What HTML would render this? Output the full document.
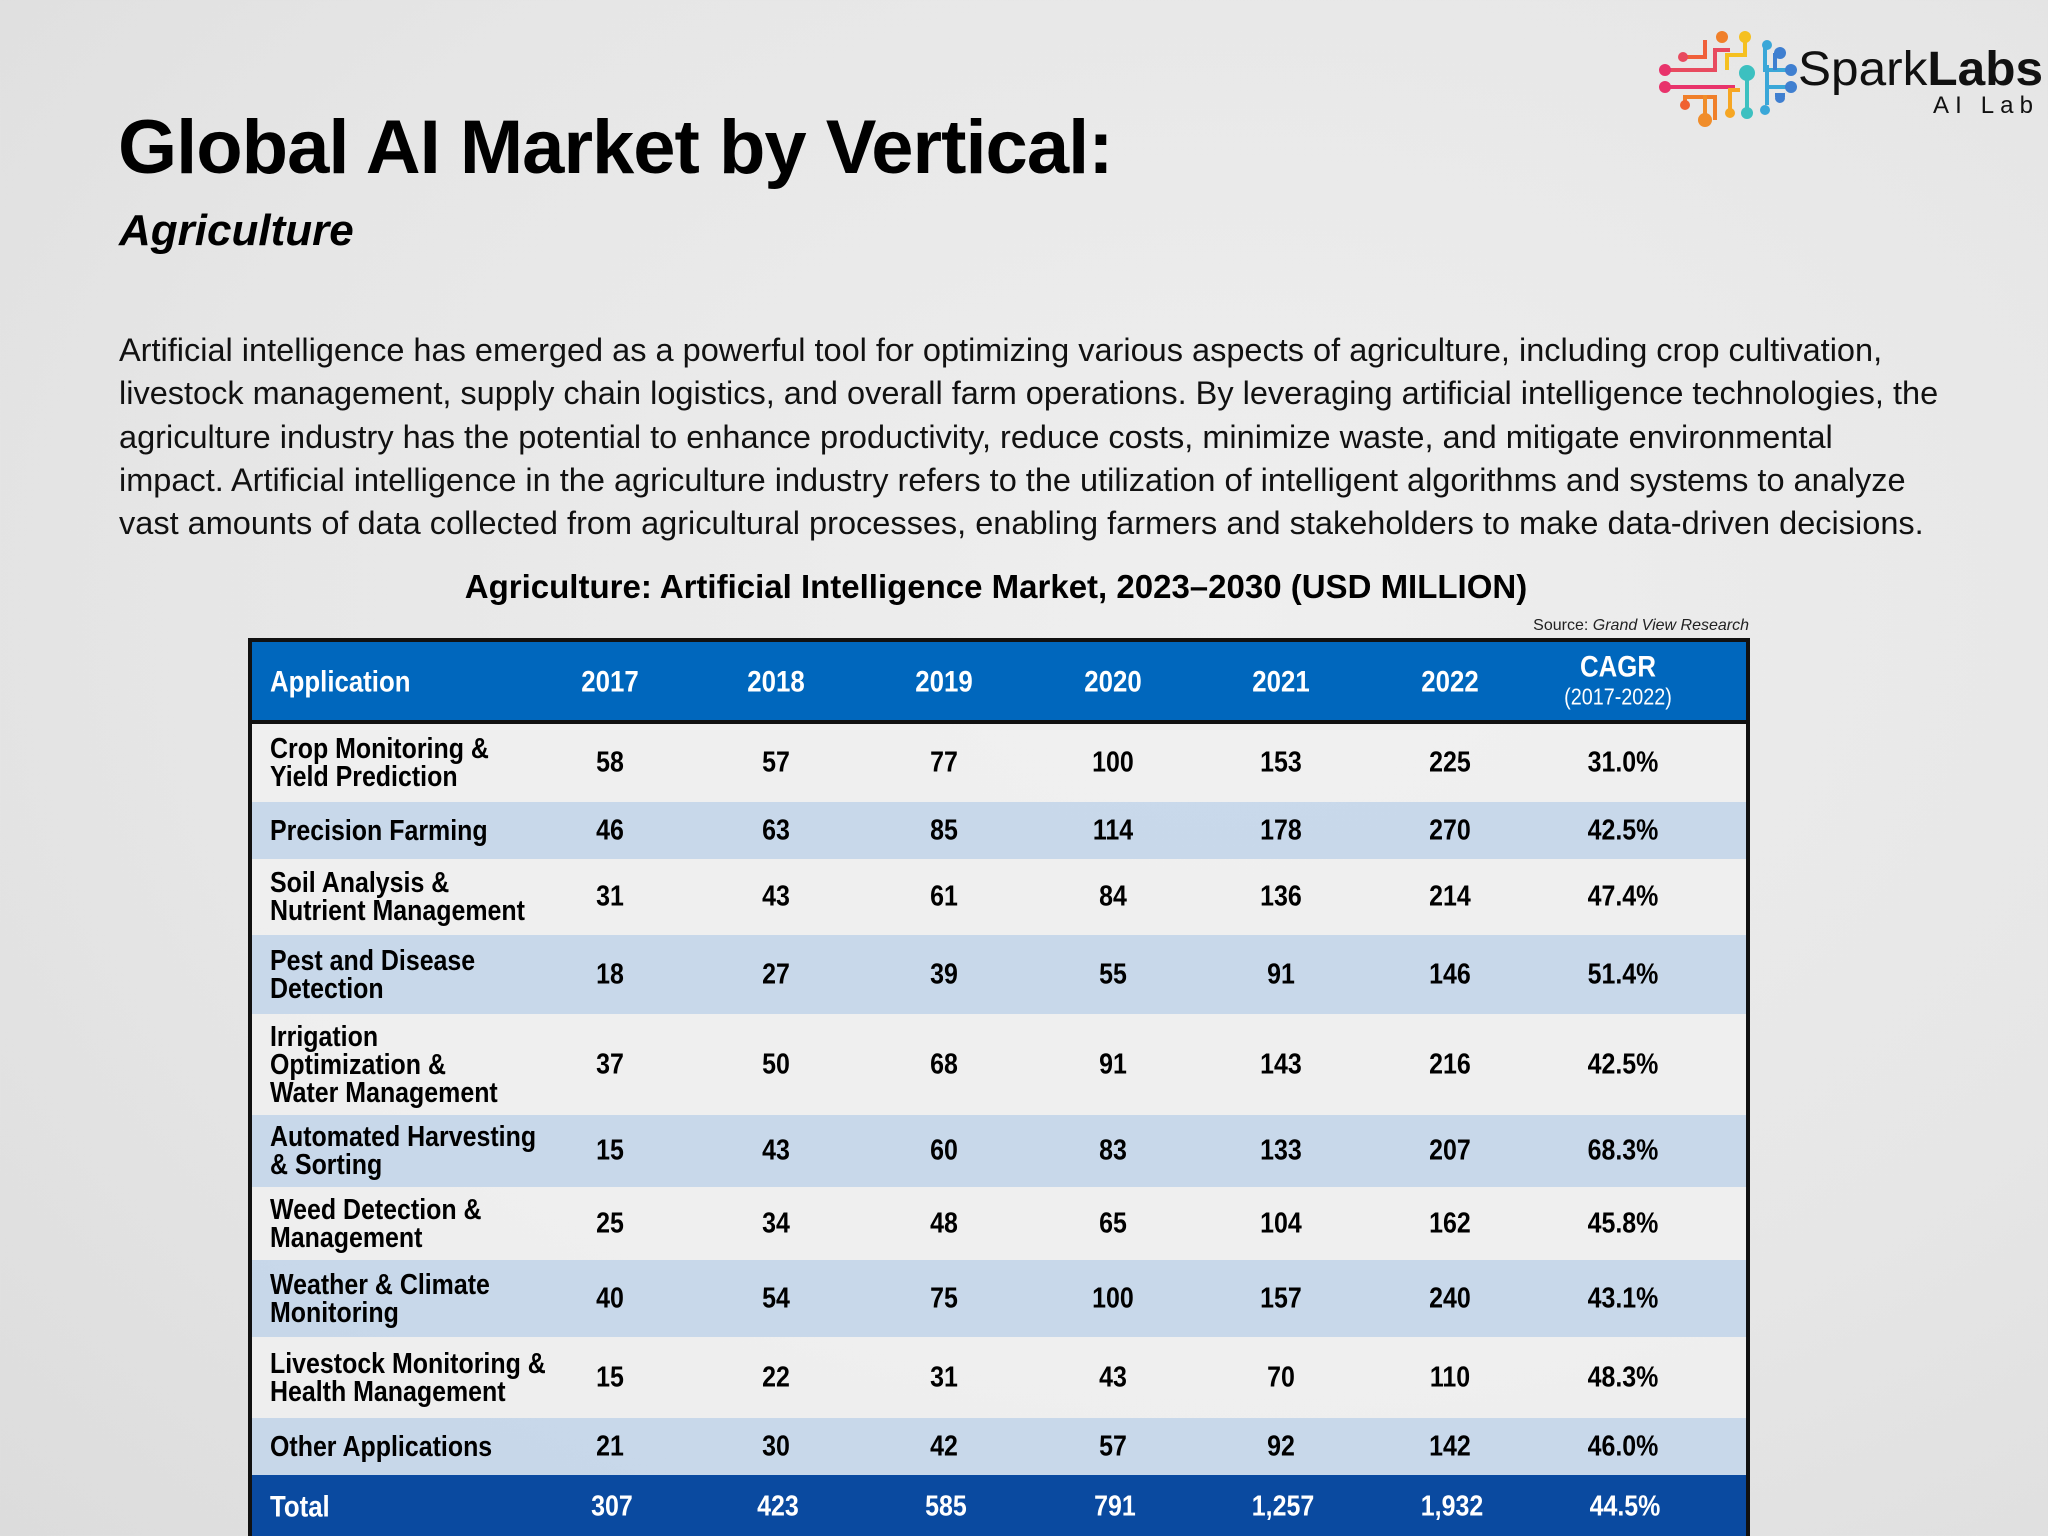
<!DOCTYPE html>
<html><head><meta charset="utf-8">
<style>
html,body{margin:0;padding:0}
body{width:2048px;height:1536px;position:relative;overflow:hidden;background:radial-gradient(ellipse at 60% 40%,#efefef 0%,#e6e6e6 60%,#dcdcdc 100%);font-family:"Liberation Sans",sans-serif;color:#000}
.abs{position:absolute}
#title{left:118px;top:104px;font-size:76px;font-weight:bold;letter-spacing:-1px;white-space:nowrap}
#sub{left:119px;top:206px;font-size:44px;font-weight:bold;font-style:italic}
#para{left:119px;top:329px;width:1975px;font-size:32.5px;line-height:43.3px;color:#111;white-space:nowrap}
#ttitle{left:0;width:1992px;top:568px;text-align:center;font-size:33px;font-weight:bold}
#src{right:299px;top:617px;font-size:16px;color:#222}
#table{left:248px;top:638px;width:1502px;height:898px;border:4px solid #111;border-bottom:none;box-sizing:border-box;overflow:hidden}
.cell{position:absolute;font-weight:bold;font-size:29px;line-height:29px;transform:translateY(-50%) scaleX(0.86);transform-origin:left center;white-space:nowrap}
.num{text-align:center;width:160px;margin-left:-80px;transform-origin:center center}
.row{position:absolute;left:0;width:100%}
#logo{left:1655px;top:15px}
</style></head><body>
<div id="logo" class="abs">
<svg width="393" height="115" viewBox="0 0 393 115">
<g stroke-width="4" fill="none">
<path d="M10 55 H60 V35 H75" stroke="#e84a5f"/><path d="M10 72 H80" stroke="#e8336b"/>
<path d="M28 42 H50 V25" stroke="#f0603a"/><path d="M30 90 V82 H60 V105" stroke="#f07f2a"/>
<path d="M50 105 V80" stroke="#f08d2a"/><path d="M75 98 V75 H85" stroke="#f6a623"/>
<path d="M72 55 V40 H90 V22" stroke="#f5c020"/><path d="M92 58 V95" stroke="#3cc0c0"/>
<path d="M110 30 V55 H135 M110 72 H135 M112 50 V90" stroke="#3aa7d8"/><path d="M120 38 V55 M120 80 H130" stroke="#3f7fd0"/>
</g>
<g><circle cx="10" cy="55" r="6" fill="#e8336b"/><circle cx="10" cy="72" r="6" fill="#e8336b"/><circle cx="28" cy="42" r="5" fill="#e84a5f"/><circle cx="67" cy="22" r="6" fill="#f07f2a"/><circle cx="90" cy="22" r="6" fill="#f5c020"/><circle cx="92" cy="58" r="8" fill="#3cc0c0"/><circle cx="112" cy="30" r="5" fill="#3aa7d8"/><circle cx="125" cy="38" r="6" fill="#3f7fd0"/><circle cx="136" cy="55" r="6" fill="#3f7fd0"/><circle cx="136" cy="72" r="6" fill="#3f7fd0"/><circle cx="125" cy="83" r="5" fill="#3f7fd0"/><circle cx="110" cy="95" r="5" fill="#3aa7d8"/><circle cx="92" cy="98" r="6" fill="#3cc0c0"/><circle cx="30" cy="90" r="5" fill="#f06030"/><circle cx="50" cy="105" r="7" fill="#f08d2a"/><circle cx="75" cy="98" r="5" fill="#f6a623"/></g>
<text x="143" y="70" font-family="Liberation Sans,sans-serif" font-size="48" fill="#111" textLength="245" lengthAdjust="spacingAndGlyphs">Spark<tspan font-weight="bold">Labs</tspan></text>
<text x="278" y="98" font-family="Liberation Sans,sans-serif" font-size="24" fill="#111" textLength="100">AI Lab</text>
</svg></div>
<div id="title" class="abs">Global AI Market by Vertical:</div>
<div id="sub" class="abs">Agriculture</div>
<div id="para" class="abs">Artificial intelligence has emerged as a powerful tool for optimizing various aspects of agriculture, including crop cultivation,<br>livestock management, supply chain logistics, and overall farm operations. By leveraging artificial intelligence technologies, the<br>agriculture industry has the potential to enhance productivity, reduce costs, minimize waste, and mitigate environmental<br>impact. Artificial intelligence in the agriculture industry refers to the utilization of intelligent algorithms and systems to analyze<br>vast amounts of data collected from agricultural processes, enabling farmers and stakeholders to make data-driven decisions.</div>
<div id="ttitle" class="abs">Agriculture: Artificial Intelligence Market, 2023–2030 (USD MILLION)</div>
<div id="src" class="abs">Source: <i>Grand View Research</i></div>
<div id="table" class="abs"></div>
<script>
const years=["2017","2018","2019","2020","2021","2022"];
const apps=["Crop Monitoring &<br>Yield Prediction","Precision Farming","Soil Analysis &<br>Nutrient Management","Pest and Disease<br>Detection","Irrigation<br>Optimization &<br>Water Management","Automated Harvesting<br>& Sorting","Weed Detection &<br>Management","Weather & Climate<br>Monitoring","Livestock Monitoring &<br>Health Management","Other Applications"];
const values=[[58,57,77,100,153,225],[46,63,85,114,178,270],[31,43,61,84,136,214],[18,27,39,55,91,146],[37,50,68,91,143,216],[15,43,60,83,133,207],[25,34,48,65,104,162],[40,54,75,100,157,240],[15,22,31,43,70,110],[21,30,42,57,92,142]];
const cagr=["31.0%","42.5%","47.4%","51.4%","42.5%","68.3%","45.8%","43.1%","48.3%","46.0%"];
const totals=["307","423","585","791","1,257","1,932"];
const totalCagr="44.5%";
const T=document.getElementById('table');
const off=252;
const colX=[610,776,944,1113,1281,1450].map(x=>x-off);
const cagrX=1623-off, nameX=270-off;
const rowH=[78,57,76,79,101,72,73,77,81,57];
function cell(parent,html,x,y,cls,color,size){const d=document.createElement('div');d.className='cell '+cls;d.innerHTML=html;d.style.left=x+'px';d.style.top=y+'px';d.style.color=color;if(size)d.style.fontSize=size+'px';parent.appendChild(d);return d;}
const H=document.createElement('div');H.className='row';H.style.top='0';H.style.height='78px';H.style.background='#0067bd';H.style.borderBottom='4px solid #111';


T.appendChild(H);
let c=cell(H,'Application',nameX,40,'','#fff',30);


years.forEach((yr,i)=>{const e=cell(H,yr,colX[i],40,'num','#fff',30);

});
c=cell(H,'CAGR<br><span style="font-size:23px;font-weight:normal">(2017-2022)</span>',cagrX-5,40,'num','#fff',30);c.style.lineHeight='28px';


let y=82;
apps.forEach((a,r)=>{const R=document.createElement('div');R.className='row';R.style.top=y+'px';R.style.height=rowH[r]+'px';R.style.background=r%2?'rgba(196,214,234,0.9)':'rgba(240,240,240,0.85)';


T.appendChild(R);const m=rowH[r]/2;
const n=cell(R,a,nameX,m,'','#000',29);n.style.lineHeight='28px';


values[r].forEach((v,i)=>{const e=cell(R,String(v),colX[i],m,'num','#000',29);

});
const g=cell(R,cagr[r],cagrX,m,'num','#000',29);


y+=rowH[r];});
const F=document.createElement('div');F.className='row';F.style.top=y+'px';F.style.height='70px';F.style.background='#0a4aa0';


T.appendChild(F);
c=cell(F,'Total',nameX,32,'','#fff',30);


totals.forEach((v,i)=>{const e=cell(F,v,colX[i]+2,32,'num','#fff',29);

});
c=cell(F,totalCagr,cagrX+2,32,'num','#fff',29);


</script>
</body></html>
